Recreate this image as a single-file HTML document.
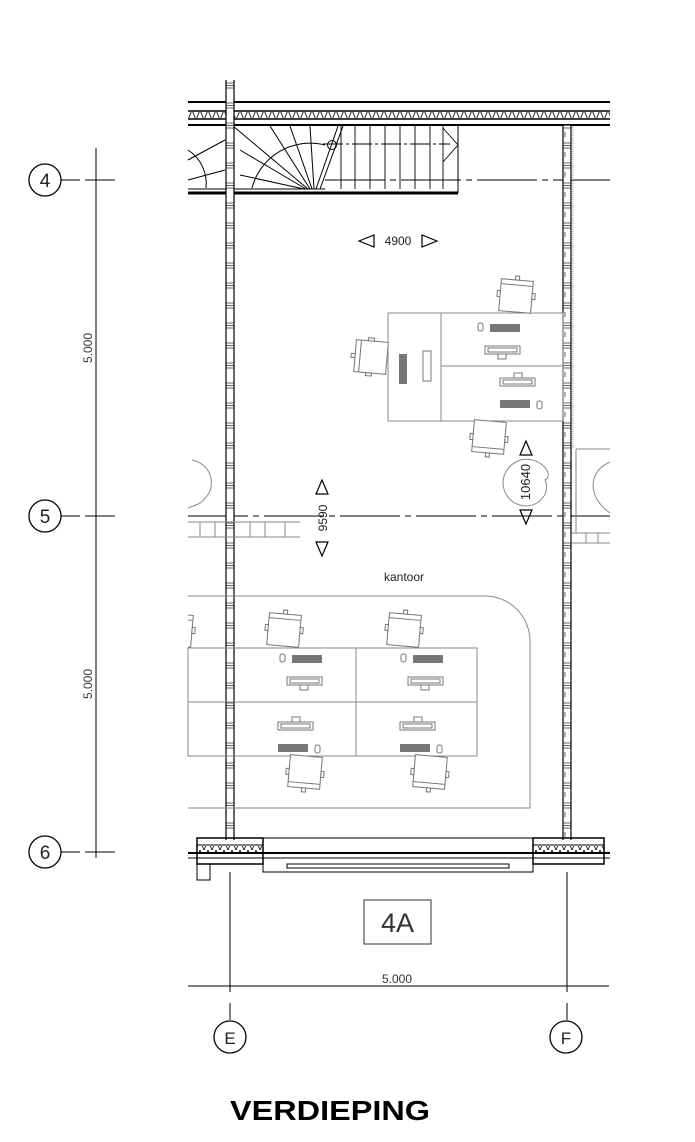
<!DOCTYPE html>
<html><head><meta charset="utf-8"><style>html,body{margin:0;padding:0;background:#fff}svg{display:block}</style></head><body>
<svg width="695" height="1142" viewBox="0 0 695 1142" xmlns="http://www.w3.org/2000/svg" font-family="Liberation Sans, sans-serif">
<defs>
<pattern id="wt" x="0" y="0" width="10" height="20" patternUnits="userSpaceOnUse">
<line x1="0" y1="3" x2="10" y2="3" stroke="#000" stroke-width="0.6"/><line x1="0" y1="5.5" x2="10" y2="5.5" stroke="#000" stroke-width="0.6"/><line x1="0" y1="8" x2="10" y2="8" stroke="#000" stroke-width="0.6"/>
<line x1="5" y1="12" x2="5" y2="17" stroke="#000" stroke-width="0.6"/>
</pattern>
<pattern id="zz" x="0" y="0" width="8" height="10" patternUnits="userSpaceOnUse">
<polyline points="0,0 4,10 8,0" fill="none" stroke="#000" stroke-width="0.8"/>
</pattern>
<clipPath id="cl"><rect x="188" y="0" width="422" height="1142"/></clipPath>
<g id="chair" fill="#fff" stroke="#777" stroke-width="1">
<rect x="-16" y="-16" width="32" height="32"/><line x1="-16" y1="-11" x2="16" y2="-11"/>
<rect x="-19" y="-4" width="3" height="6"/><rect x="16" y="-4" width="3" height="6"/>
<rect x="-2" y="-20" width="4" height="4"/>
</g>
<g id="ws" fill="none" stroke="#777" stroke-width="1">
<rect x="-30" y="-12" width="30" height="8" fill="#777" stroke="none"/>
<rect x="-42" y="-13" width="5" height="8" rx="2"/>
<rect x="-35" y="10" width="35" height="8"/><rect x="-32" y="12" width="29" height="4"/>
<rect x="-22" y="18" width="8" height="5"/>
</g>
</defs>

<g stroke="#000" stroke-width="1">
<line x1="60" y1="180" x2="80" y2="180"/><line x1="85" y1="180" x2="115" y2="180"/>
<line x1="60" y1="516" x2="80" y2="516"/><line x1="85" y1="516" x2="115" y2="516"/>
<line x1="60" y1="852" x2="80" y2="852"/><line x1="85" y1="852" x2="115" y2="852"/>
<line x1="96" y1="148" x2="96" y2="858"/>
<line x1="188" y1="516" x2="610" y2="516" stroke-dasharray="60,5,6,5"/>
<line x1="325" y1="180" x2="610" y2="180" stroke-dasharray="60,5,6,5"/>
<line x1="188" y1="986" x2="609" y2="986"/>
<line x1="230" y1="872" x2="230" y2="992"/><line x1="230" y1="1003" x2="230" y2="1020"/>
<line x1="567" y1="872" x2="567" y2="992"/><line x1="567" y1="1003" x2="567" y2="1020"/>
</g>
<g fill="#fff" stroke="#000" stroke-width="1.3">
<circle cx="45" cy="180" r="16"/><circle cx="45" cy="516" r="16"/><circle cx="45" cy="852" r="16"/>
<circle cx="230" cy="1037" r="16"/><circle cx="566" cy="1037" r="16"/>
</g>
<g font-size="19" fill="#222" text-anchor="middle">
<text x="45" y="187">4</text><text x="45" y="523">5</text><text x="45" y="859">6</text>
<text x="230" y="1044" font-size="17">E</text><text x="566" y="1044" font-size="17">F</text>
</g>
<g font-size="12" fill="#333" text-anchor="middle">
<text transform="translate(92,348) rotate(-90)">5.000</text>
<text transform="translate(92,684) rotate(-90)">5.000</text>
<text x="397" y="983">5.000</text>
</g>

<g stroke="#000">
<line x1="188" y1="102" x2="610" y2="102" stroke-width="2"/>
<line x1="188" y1="111" x2="610" y2="111" stroke-width="1.5"/>
<rect x="188" y="112" width="422" height="6" fill="url(#zz)" stroke="none"/>
<line x1="188" y1="119" x2="610" y2="119" stroke-width="1.5"/>
<line x1="188" y1="125" x2="610" y2="125" stroke-width="2"/>
</g>
<g stroke="#000" stroke-width="1" fill="none">
<line x1="188" y1="193" x2="458" y2="193" stroke-width="3"/>
<line x1="458" y1="125" x2="458" y2="193"/>
<line x1="188" y1="189" x2="325" y2="189"/>
<path d="M252,188 A60,60 0 0 1 325,145"/>
<path d="M188,150 A40,40 0 0 1 206,188"/>
<line x1="233" y1="126" x2="308" y2="189"/><line x1="270" y1="126" x2="310" y2="189"/>
<line x1="290" y1="126" x2="312" y2="189"/><line x1="310" y1="126" x2="314" y2="189"/>
<line x1="188" y1="180" x2="225" y2="170"/><line x1="188" y1="160" x2="225" y2="140"/>
<line x1="240" y1="150" x2="306" y2="189"/><line x1="240" y1="175" x2="304" y2="189"/>
<line x1="338" y1="126" x2="316" y2="189"/><line x1="343" y1="126" x2="320" y2="189"/>
<circle cx="332" cy="145" r="4.5"/>
<g stroke-width="0.9">
<line x1="341" y1="126" x2="341" y2="189"/><line x1="355" y1="126" x2="355" y2="189"/><line x1="370" y1="126" x2="370" y2="189"/>
<line x1="385" y1="126" x2="385" y2="189"/><line x1="400" y1="126" x2="400" y2="189"/><line x1="415" y1="126" x2="415" y2="189"/>
<line x1="430" y1="126" x2="430" y2="189"/><line x1="443" y1="126" x2="443" y2="189"/>
<line x1="323" y1="144" x2="450" y2="144" stroke-dasharray="20,3,3,3"/>
<polyline points="443,128 458,145 443,162"/>
</g>
</g>

<g>
<rect x="226" y="80" width="8" height="760" fill="#fff"/>
<rect x="226" y="80" width="8" height="760" fill="url(#wt)"/>
<line x1="226" y1="80" x2="226" y2="840" stroke="#000" stroke-width="1.2"/>
<line x1="234" y1="80" x2="234" y2="840" stroke="#000" stroke-width="1.2"/>
<rect x="563" y="125" width="8" height="715" fill="#fff"/>
<rect x="563" y="125" width="8" height="715" fill="url(#wt)"/>
<line x1="563" y1="125" x2="563" y2="840" stroke="#000" stroke-width="1.2"/>
<line x1="571" y1="125" x2="571" y2="840" stroke="#000" stroke-width="1.2"/>
<line x1="573" y1="127" x2="573" y2="448" stroke="#999" stroke-dasharray="1,1"/>
</g>

<g stroke="#000" fill="none">
<rect x="197" y="838" width="66" height="26" stroke-width="1.5"/>
<rect x="533" y="838" width="71" height="26" stroke-width="1.5"/>
<line x1="197" y1="845" x2="263" y2="845"/><line x1="533" y1="845" x2="604" y2="845"/>
<rect x="197" y="846" width="66" height="6" fill="url(#zz)" stroke="none"/>
<rect x="533" y="846" width="71" height="6" fill="url(#zz)" stroke="none"/>
<line x1="188" y1="853" x2="610" y2="853" stroke-width="2"/>
<line x1="188" y1="858" x2="610" y2="858"/>
<rect x="263" y="838" width="270" height="34"/>
<rect x="287" y="864" width="222" height="4"/>
<rect x="197" y="864" width="13" height="16"/>
</g>

<g stroke="#888" fill="none" stroke-width="1">
<rect x="388" y="313" width="175" height="108"/>
<line x1="441" y1="313" x2="441" y2="421"/><line x1="441" y1="366" x2="563" y2="366"/>
<path d="M188,596 H485 A45,45 0 0 1 530,641 V808 H188"/>
<rect x="188" y="648" width="289" height="108"/>
<line x1="356" y1="648" x2="356" y2="756"/><line x1="188" y1="702" x2="477" y2="702"/>
<line x1="188" y1="522" x2="300" y2="522"/><line x1="188" y1="537" x2="300" y2="537"/>
<line x1="576" y1="449" x2="610" y2="449"/><line x1="576" y1="449" x2="576" y2="533"/>
<line x1="572" y1="533" x2="610" y2="533"/><line x1="572" y1="543" x2="610" y2="543"/>
<path d="M192,460 C215,465 215,490 205,498 C200,505 195,505 188,508"/>
<path d="M610,462 C590,470 585,495 610,513"/>
<path d="M520,460 C540,455 555,475 545,480 C552,495 535,510 520,505 C500,500 495,470 520,460Z"/>
</g>
<g stroke="#888" stroke-width="1">
<line x1="200" y1="522" x2="200" y2="537"/><line x1="215" y1="522" x2="215" y2="537"/><line x1="250" y1="522" x2="250" y2="537"/><line x1="265" y1="522" x2="265" y2="537"/><line x1="285" y1="522" x2="285" y2="537"/>
<line x1="586" y1="533" x2="586" y2="543"/><line x1="598" y1="533" x2="598" y2="543"/>
</g>
<use href="#chair" transform="translate(516,296) rotate(5)"/>
<use href="#chair" transform="translate(371,357) rotate(-85)"/>
<use href="#chair" transform="translate(489,437) rotate(185)"/>
<use href="#chair" transform="translate(284,630) rotate(5)"/>
<use href="#chair" transform="translate(404,630) rotate(5)"/>
<use href="#chair" transform="translate(305,772) rotate(185)"/>
<use href="#chair" transform="translate(430,772) rotate(185)"/>
<g clip-path="url(#cl)"><use href="#chair" transform="translate(176,630) rotate(5)"/></g>
<use href="#ws" transform="translate(520,336)"/>
<use href="#ws" transform="translate(500,396) rotate(180)"/>
<use href="#ws" transform="translate(322,667)"/>
<use href="#ws" transform="translate(443,667)"/>
<use href="#ws" transform="translate(278,740) rotate(180)"/>
<use href="#ws" transform="translate(400,740) rotate(180)"/>
<rect x="399" y="354" width="8" height="30" fill="#777"/>
<rect x="423" y="351" width="8" height="30" fill="none" stroke="#777"/>

<g fill="none" stroke="#000" stroke-width="1.2">
<polygon points="359,241 374,235 374,247"/><polygon points="437,241 422,235 422,247"/>
<polygon points="322,480 316,494 328,494"/><polygon points="322,556 316,542 328,542"/>
<polygon points="526,441 520,455 532,455"/><polygon points="526,524 520,510 532,510"/>
</g>
<g font-size="12" fill="#222" text-anchor="middle">
<text x="398" y="245">4900</text>
<text transform="translate(327,518) rotate(-90)">9590</text>
<text transform="translate(530,482) rotate(-90)" font-size="13">10640</text>
<text x="404" y="581" font-size="12">kantoor</text>
</g>
<rect x="364" y="900" width="67" height="44" fill="none" stroke="#333"/>
<text x="397.5" y="932" font-size="27" fill="#333" text-anchor="middle">4A</text>
<text x="330" y="1120" font-size="28" font-weight="bold" fill="#000" text-anchor="middle" textLength="200" lengthAdjust="spacingAndGlyphs">VERDIEPING</text>
</svg>
</body></html>
